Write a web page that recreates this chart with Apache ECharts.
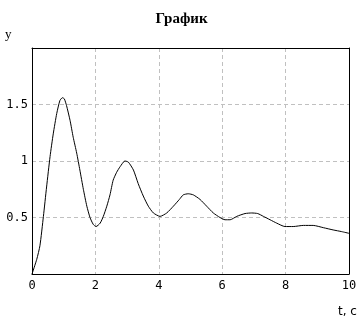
<!DOCTYPE html>
<html>
<head>
<meta charset="utf-8">
<script src="https://cdn.jsdelivr.net/npm/echarts@6/dist/echarts.min.js"></script>
<style>html,body{margin:0;padding:0;background:#fff;}#c{width:363px;height:321px;}</style>
</head>
<body>
<div id="c"></div>
<script>
var titleText = 'График';
var xName = 't, c';
var yName = 'y';
var tValues = [0, 0.15, 0.25, 0.36, 0.46, 0.57, 0.67, 0.78, 0.88, 0.96, 1.02, 1.09, 1.2, 1.3, 1.41, 1.51, 1.62, 1.73, 1.83, 1.93, 2.02, 2.15, 2.25, 2.36, 2.46, 2.56, 2.67, 2.78, 2.93, 3.04, 3.2, 3.35, 3.51, 3.67, 3.83, 4.04, 4.25, 4.46, 4.65, 4.77, 4.93, 5.09, 5.3, 5.51, 5.72, 5.93, 6.09, 6.25, 6.46, 6.72, 6.93, 7.12, 7.3, 7.51, 7.72, 7.98, 8.24, 8.56, 8.87, 9.19, 9.5, 9.77, 10.0];
var yValues = [0, 0.13, 0.25, 0.51, 0.77, 1.04, 1.24, 1.42, 1.535, 1.56, 1.55, 1.49, 1.36, 1.21, 1.07, 0.92, 0.75, 0.6, 0.5, 0.44, 0.42, 0.45, 0.51, 0.60, 0.70, 0.83, 0.90, 0.95, 1.0, 0.99, 0.92, 0.80, 0.69, 0.60, 0.54, 0.51, 0.54, 0.60, 0.66, 0.70, 0.71, 0.70, 0.66, 0.60, 0.54, 0.50, 0.48, 0.48, 0.51, 0.535, 0.54, 0.535, 0.51, 0.48, 0.45, 0.42, 0.42, 0.43, 0.43, 0.41, 0.39, 0.375, 0.36];
var xTicks = [0, 2, 4, 6, 8, 10];
var yTicks = [0.5, 1, 1.5];

var data = tValues.map(function (t, i) { return [t, yValues[i]]; });
var monoFont = 'DejaVu Sans Mono';
var gridLine = {show: true, showMinLine: false, showMaxLine: false, lineStyle: {color: '#c0c0c0', type: [4, 3], width: 1}};
var chart = echarts.init(document.getElementById('c'), null, {renderer: 'canvas'});
chart.setOption({
  animation: false,
  backgroundColor: '#fff',
  title: {
    text: titleText, left: 'center', top: 7,
    textStyle: {fontFamily: 'Liberation Serif', fontWeight: 'bold', fontSize: 15, color: '#000'}
  },
  graphic: [
    {type: 'text', left: 5, top: 28, style: {text: yName, font: '13px "Liberation Serif"', fill: '#000'}},
    {type: 'text', left: 338, top: 306, style: {text: xName, font: '12px "DejaVu Sans"', fill: '#000'}}
  ],
  grid: {left: 32, right: 14, top: 48, bottom: 47, show: false},
  xAxis: [{
    type: 'value', min: 0, max: 10, interval: 2, position: 'bottom',
    axisLine: {show: true, onZero: false, lineStyle: {color: '#000', width: 1}},
    axisTick: {show: false},
    axisLabel: {margin: 6, color: '#000', fontFamily: monoFont, fontSize: 12,
      formatter: function (v) { return xTicks.indexOf(v) >= 0 ? String(v) : ''; }},
    splitLine: gridLine
  }, {
    type: 'value', min: 0, max: 10, interval: 2, position: 'top',
    axisLine: {show: true, onZero: false, lineStyle: {color: '#000', width: 1}},
    axisTick: {show: false}, axisLabel: {show: false}, splitLine: {show: false}
  }],
  yAxis: [{
    type: 'value', min: 0, max: 2, interval: 0.5, position: 'left',
    axisLine: {show: true, onZero: false, lineStyle: {color: '#000', width: 1}},
    axisTick: {show: false},
    axisLabel: {margin: 4, color: '#000', fontFamily: monoFont, fontSize: 12,
      formatter: function (v) { return yTicks.indexOf(v) >= 0 ? String(v) : ''; }},
    splitLine: gridLine
  }, {
    type: 'value', min: 0, max: 2, interval: 0.5, position: 'right',
    axisLine: {show: true, onZero: false, lineStyle: {color: '#000', width: 1}},
    axisTick: {show: false}, axisLabel: {show: false}, splitLine: {show: false}
  }],
  series: [{
    type: 'line', data: data, showSymbol: false, smooth: 0.2,
    xAxisIndex: 0, yAxisIndex: 0,
    lineStyle: {color: '#000', width: 1}
  }]
});
</script>
</body>
</html>
